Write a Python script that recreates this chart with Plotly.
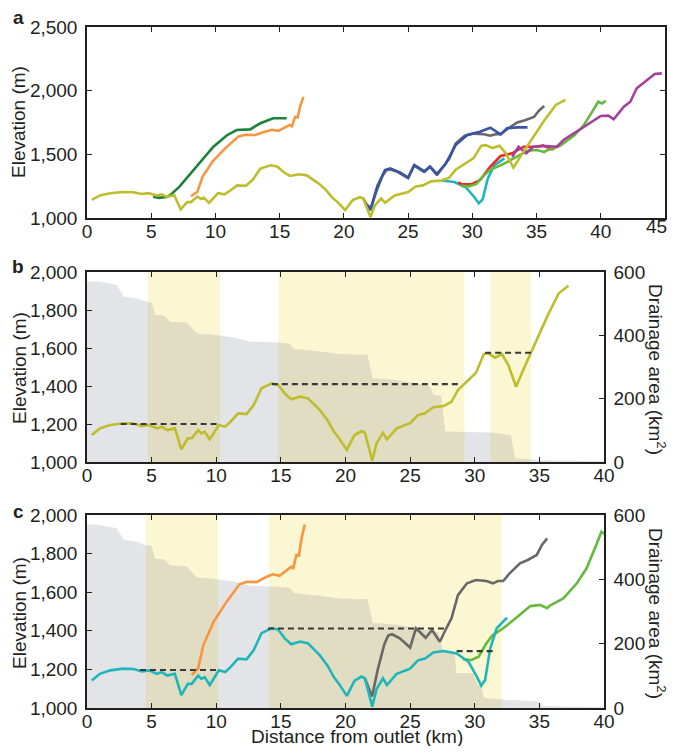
import numpy as np
import plotly.graph_objects as go

# ---------------- data ----------------
# common trunk (outlet to ~27.6 km)
trunk_x = [0.37, 1.0, 1.8, 2.8, 3.6, 4.25, 4.8, 5.4, 5.8, 6.2, 6.8, 7.3, 7.8, 8.1, 8.6, 8.85, 9.1, 9.5,
           10.2, 10.7, 11.1, 11.7, 12.35, 12.9, 13.5, 14.3, 14.8, 15.3, 15.8, 16.5, 17.1, 18.0, 18.6,
           19.1, 19.5, 20.1, 20.7, 21.25, 21.5, 22.07, 22.4, 22.9, 23.2, 23.96, 25.0, 25.6, 26.15,
           26.8, 27.6]
trunk_y = [1142, 1177, 1195, 1204, 1202, 1189, 1195, 1177, 1186, 1168, 1177, 1067, 1125, 1125, 1168,
           1151, 1160, 1119, 1195, 1186, 1212, 1256, 1252, 1300, 1388, 1414, 1405, 1361, 1330, 1344,
           1335, 1274, 1221, 1160, 1125, 1063, 1142, 1163, 1154, 1007, 1098, 1154, 1119, 1177, 1204,
           1247, 1256, 1288, 1295]

olive_x = [28.2, 28.7, 29.4, 29.9, 30.1, 30.7, 31.05, 31.57, 32.1, 32.6, 33.2, 33.75, 34.5, 35.6, 36.5, 37.25]
olive_y = [1317, 1379, 1423, 1458, 1470, 1568, 1572, 1549, 1568, 1510, 1396, 1484, 1598, 1765, 1888, 1928]

cyan_x = [28.6, 29.5, 30.1, 30.5, 30.8, 31.2, 31.7, 32.5]
cyan_y = [1283, 1240, 1171, 1116, 1145, 1309, 1413, 1468]

red_x = [28.9, 29.2, 29.95, 30.6, 31.4, 32.2, 33.1, 34.0, 35.0, 35.5, 36.2, 36.8]
red_y = [1280, 1265, 1265, 1298, 1403, 1487, 1508, 1560, 1560, 1570, 1540, 1573]

green_x = [29.1, 29.75, 30.3, 30.9, 31.4, 32.2, 33.0, 33.8, 34.3, 35.05, 35.6, 35.8, 36.85, 37.9,
           38.65, 39.4, 39.8, 40.1, 40.4]
green_y = [1252, 1249, 1266, 1335, 1378, 1413, 1456, 1499, 1528, 1534, 1517, 1530, 1568, 1646,
           1724, 1845, 1913, 1900, 1921]

magenta_x = [33.1, 33.6, 34.2, 34.75, 35.8, 36.6, 37.1, 38.1, 38.9, 40.0, 40.6, 41.0, 41.8, 42.3,
             42.8, 43.6, 44.2, 44.75]
magenta_y = [1481, 1560, 1508, 1560, 1565, 1560, 1613, 1678, 1723, 1801, 1804, 1775, 1874, 1913,
             2019, 2084, 2131, 2136]

gray_x = [21.5, 22.05, 22.5, 23.0, 23.3, 23.6, 24.2, 25.0, 25.45, 26.2, 26.7, 27.3, 27.8, 28.2, 28.7,
          29.4, 30.1, 30.9, 31.4, 31.8, 32.2, 32.7, 33.5, 34.1, 34.8, 35.2, 35.6]
gray_y = [1154, 1060, 1200, 1330, 1375, 1382, 1361, 1313, 1413, 1364, 1404, 1343, 1413, 1465, 1585,
          1646, 1663, 1658, 1646, 1658, 1658, 1698, 1750, 1767, 1793, 1845, 1879]

blue_x = [21.8, 22.1, 22.6, 23.2, 23.6, 24.4, 25.0, 25.5, 26.3, 26.7, 27.2, 27.9, 28.7, 29.6, 30.6,
          31.4, 32.2, 32.7, 33.5, 34.3]
blue_y = [1102, 1076, 1250, 1377, 1390, 1356, 1317, 1416, 1364, 1403, 1343, 1422, 1573, 1652, 1678,
          1709, 1657, 1704, 1712, 1712]

orange_x = [8.1, 8.6, 9.0, 9.8, 10.8, 11.8, 12.35, 13.1, 13.9, 14.4, 14.9, 15.45, 15.8, 15.95, 16.2,
            16.4, 16.6, 16.85]
orange_y = [1171, 1206, 1326, 1447, 1551, 1641, 1654, 1652, 1680, 1693, 1685, 1715, 1732, 1720, 1793,
            1790, 1879, 1951]

dkgreen_x = [5.15, 5.6, 6.2, 6.5, 7.2, 8.0, 8.8, 9.84, 10.9, 11.65, 12.7, 13.5, 14.5, 15.55]
dkgreen_y = [1168, 1158, 1165, 1181, 1246, 1340, 1442, 1560, 1650, 1691, 1696, 1744, 1783, 1783]

# drainage area (km^2) along the profiles
area_b_x = [0, 1.0, 2.3, 2.86, 3.85, 4.6, 5.0, 5.26, 6.0, 6.4, 7.7, 8.5, 9.8, 11.3, 12.6, 14.7, 15.7,
            16.0, 17.8, 19.6, 21.7, 22.1, 24.0, 26.5, 26.8, 27.4, 27.7, 31.2, 32.8, 33.1, 34.8, 40.0]
area_b_y = [571, 569, 559, 522, 517, 506, 503, 464, 461, 443, 440, 406, 401, 394, 380, 377, 373, 357,
            350, 340, 338, 264, 259, 240, 212, 209, 96, 93, 85, 12, 6, 2]
area_c_x = [0, 1.0, 2.3, 2.86, 3.85, 4.6, 5.0, 5.26, 6.0, 6.4, 7.7, 8.5, 9.8, 11.3, 12.6, 14.7, 15.7,
            16.0, 17.8, 19.6, 21.7, 22.1, 24.0, 27.2, 27.5, 28.45, 28.55, 29.9, 30.2, 30.5, 30.7, 34.9,
            35.3, 40.0]
area_c_y = [571, 569, 559, 522, 517, 506, 503, 464, 461, 443, 440, 406, 401, 394, 380, 377, 373, 357,
            350, 340, 338, 264, 259, 235, 178, 175, 108, 108, 71, 71, 30, 20, 6, 2]

# highlighted reaches and knickpoint levels
bands_b = [(4.7, 10.3), (14.8, 29.2), (31.2, 34.35)]
bands_c = [(4.54, 10.16), (14.08, 32.1)]
levels_b = [(2.6, 10.3, 1200), (14.3, 29.0, 1410), (30.8, 34.4, 1575)]
levels_c = [(4.1, 10.1, 1197), (14.0, 27.8, 1412), (28.6, 31.4, 1295)]

# tick labels
xticks_a = [0, 5, 10, 15, 20, 25, 30, 35, 40, 45]
xticks_bc = [0, 5, 10, 15, 20, 25, 30, 35, 40]

# ---------------- styles ----------------
C_OLIVE = '#bdbd2d'
C_CYAN = '#1fb6b9'
C_RED = '#ec2a26'
C_GREEN = '#67b93b'
C_MAGENTA = '#a3409b'
C_GRAY = '#686868'
C_BLUE = '#3a54a4'
C_ORANGE = '#f7963f'
C_DKGREEN = '#1b813b'
YELLOW = '#faf7d2'
GRAYFILL = '#e3e4e7'
OLIVEFILL = '#e1ddc2'
INK = '#231f20'
FONT = 'Liberation Sans, Arial, Helvetica, sans-serif'
LW = 2.6

fig = go.Figure()


def line(x, y, color, xa, ya, width=LW, dash=None):
    fig.add_trace(go.Scatter(x=x, y=y, mode='lines', xaxis=xa, yaxis=ya, hoverinfo='skip',
                             line=dict(color=color, width=width, dash=dash), showlegend=False))


def clip(xs, ys, a, b):
    xs = np.asarray(xs, float)
    ys = np.asarray(ys, float)
    inner = (xs > a) & (xs < b)
    cx = [a] + list(xs[inner]) + [b]
    cy = [float(np.interp(a, xs, ys))] + list(ys[inner]) + [float(np.interp(b, xs, ys))]
    return cx, cy


def area(xs, ys, bands, xa, ya):
    fig.add_trace(go.Scatter(x=xs, y=ys, mode='lines', fill='tozeroy', fillcolor=GRAYFILL,
                             line=dict(width=0, color=GRAYFILL), xaxis=xa, yaxis=ya,
                             hoverinfo='skip', showlegend=False))
    for a, b in bands:
        cx, cy = clip(xs, ys, a, b)
        fig.add_trace(go.Scatter(x=cx, y=cy, mode='lines', fill='tozeroy', fillcolor=OLIVEFILL,
                                 line=dict(width=0, color=OLIVEFILL), xaxis=xa, yaxis=ya,
                                 hoverinfo='skip', showlegend=False))


# ---------------- panel a ----------------
line(dkgreen_x, dkgreen_y, C_DKGREEN, 'x', 'y')
line(orange_x, orange_y, C_ORANGE, 'x', 'y')
line(gray_x, gray_y, C_GRAY, 'x', 'y')
line(blue_x, blue_y, C_BLUE, 'x', 'y')
line(trunk_x[-1:] + cyan_x, trunk_y[-1:] + cyan_y, C_CYAN, 'x', 'y')
line(red_x, red_y, C_RED, 'x', 'y')
line(green_x, green_y, C_GREEN, 'x', 'y')
line(magenta_x, magenta_y, C_MAGENTA, 'x', 'y')
line(trunk_x + olive_x, trunk_y + olive_y, C_OLIVE, 'x', 'y')

# ---------------- panel b ----------------
area(area_b_x, area_b_y, bands_b, 'x2', 'y2')
line(trunk_x + olive_x, trunk_y + olive_y, C_OLIVE, 'x2', 'y3')
for a, b, lv in levels_b:
    line([a, b], [lv, lv], '#3a3a3a', 'x2', 'y3', width=2.2, dash='6px,4px')

# ---------------- panel c ----------------
area(area_c_x, area_c_y, bands_c, 'x3', 'y4')
line(orange_x, orange_y, C_ORANGE, 'x3', 'y5')
line(gray_x, gray_y, C_GRAY, 'x3', 'y5')
line(green_x, green_y, C_GREEN, 'x3', 'y5')
line(trunk_x + cyan_x, trunk_y + cyan_y, C_CYAN, 'x3', 'y5')
for a, b, lv in levels_c:
    line([a, b], [lv, lv], '#3a3a3a', 'x3', 'y5', width=2.2, dash='6px,4px')

shapes = []
for a, b in bands_b:
    shapes.append(dict(type='rect', xref='x2', yref='y2 domain', x0=a, x1=b, y0=0, y1=1,
                       fillcolor=YELLOW, line=dict(width=0), layer='below'))
for a, b in bands_c:
    shapes.append(dict(type='rect', xref='x3', yref='y4 domain', x0=a, x1=b, y0=0, y1=1,
                       fillcolor=YELLOW, line=dict(width=0), layer='below'))

FS = 19
tickfont = dict(family=FONT, size=FS, color=INK)
base = dict(showline=True, linecolor=INK, linewidth=1.5, ticks='inside', ticklen=5, tickwidth=1.2,
            tickcolor=INK, showgrid=False, zeroline=False, tickfont=tickfont, automargin=False)
ybase = dict(base, ticklabelstandoff=4)
xbase = dict(base, ticklabelstandoff=-5, mirror='ticks')

# page body has an 8px margin: size the figure so it fills the 677x754 window exactly
OFF = 8
W, H = 677 - 2 * OFF, 754 - 2 * OFF
L, T = 87 - OFF, 27 - OFF
R = W - L - (665 - 87)
B = H - (708 - OFF)
PW = W - L - R
PH = H - T - B
dom_bc = (604 - 87) / PW


def px_x(p):
    return (p - OFF - L) / PW


def px_y(p):
    return (H - B - (p - OFF)) / PH


def ydom(top_px, bot_px):
    return [px_y(bot_px), px_y(top_px)]


# last tick label of panel a is drawn as an annotation so it is not hidden at the page edge
ticktext_a = [str(v) for v in xticks_a[:-1]] + ['']

fig.update_layout(
    width=W, height=H, margin=dict(l=L, r=R, t=T, b=B, pad=0),
    paper_bgcolor='white', plot_bgcolor='white', showlegend=False,
    font=dict(family=FONT, color=INK),
    shapes=shapes,
    xaxis=dict(xbase, domain=[0, 1], anchor='y', range=[0, 45], tickvals=xticks_a,
               ticktext=ticktext_a),
    yaxis=dict(ybase, domain=ydom(27, 218), anchor='x', range=[1000, 2500], dtick=500,
               tickformat=',d', mirror='ticks'),
    xaxis2=dict(xbase, domain=[0, dom_bc], anchor='y2', range=[0, 40], tickvals=xticks_bc),
    yaxis2=dict(ybase, domain=ydom(272, 462), anchor='x2', side='right', range=[0, 600], dtick=200),
    yaxis3=dict(ybase, overlaying='y2', anchor='x2', side='left', range=[1000, 2000], dtick=200,
                tickformat=',d'),
    xaxis3=dict(xbase, domain=[0, dom_bc], anchor='y4', range=[0, 40], tickvals=xticks_bc),
    yaxis4=dict(ybase, domain=ydom(515, 708), anchor='x3', side='right', range=[0, 600], dtick=200),
    yaxis5=dict(ybase, overlaying='y4', anchor='x3', side='left', range=[1000, 2000], dtick=200,
                tickformat=',d'),
)

ann = []


def note(text, xp, yp, size=FS, angle=0, xanchor='center'):
    ann.append(dict(text=text, x=px_x(xp), y=px_y(yp), xref='paper', yref='paper',
                    xanchor=xanchor, yanchor='middle', textangle=angle, showarrow=False,
                    font=dict(family=FONT, size=size, color=INK)))


for lab, yp in (('a', 18), ('b', 266), ('c', 511)):
    note('<b>%s</b>' % lab, 18, yp, size=19)
for yc in (122, 368, 613):
    note('Elevation (m)', 19, yc, angle=-90)
for yc in (369, 613):
    note('Drainage area (km<sup>2</sup>)', 657, yc, angle=90)
note('Distance from outlet (km)', 357, 736)
note(str(xticks_a[-1]), 669, 227, xanchor='right')
fig.update_layout(annotations=ann)

fig.write_html('out.html', config={'responsive': False})
